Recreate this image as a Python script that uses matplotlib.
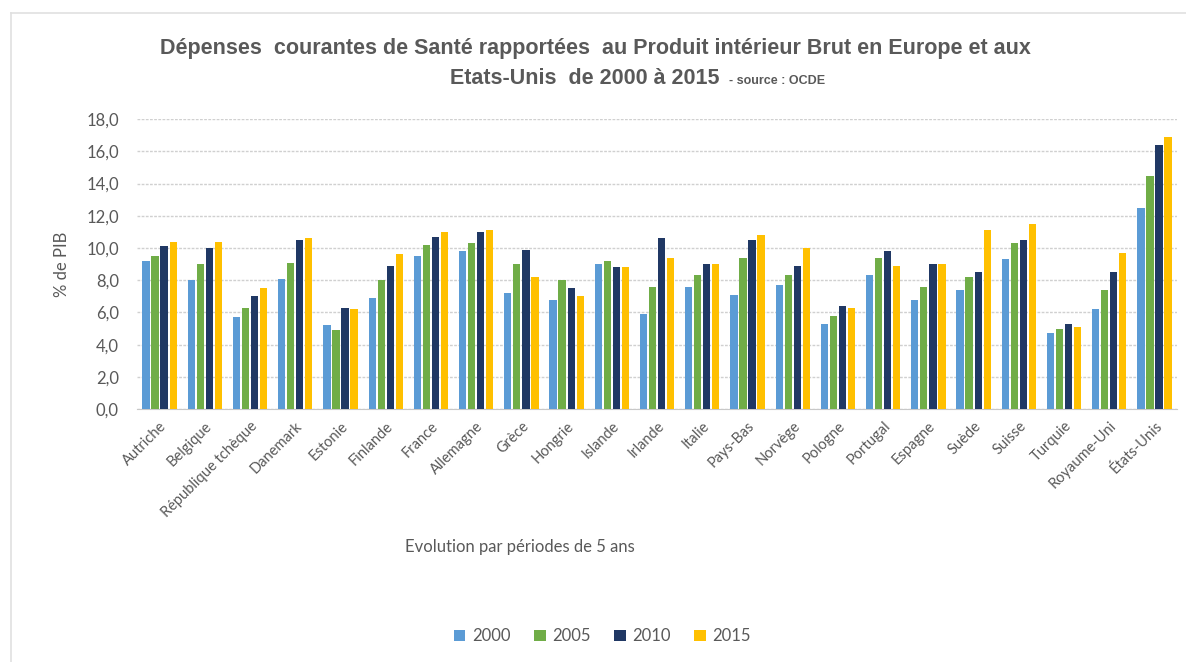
import matplotlib.pyplot as plt
import numpy as np

# Dépenses courantes de santé en % du PIB (source : OCDE)
pays = ['Autriche', 'Belgique', 'République tchèque', 'Danemark', 'Estonie',
        'Finlande', 'France', 'Allemagne', 'Grèce', 'Hongrie', 'Islande',
        'Irlande', 'Italie', 'Pays-Bas', 'Norvège', 'Pologne', 'Portugal',
        'Espagne', 'Suède', 'Suisse', 'Turquie', 'Royaume-Uni', 'États-Unis']

annees = ['2000', '2005', '2010', '2015']

v2000 = [9.2, 8.0, 5.7, 8.1, 5.2, 6.9, 9.5, 9.8, 7.2, 6.8, 9.0, 5.9,
         7.6, 7.1, 7.7, 5.3, 8.3, 6.8, 7.4, 9.3, 4.7, 6.2, 12.5]
v2005 = [9.5, 9.0, 6.3, 9.1, 4.9, 8.0, 10.2, 10.3, 9.0, 8.0, 9.2, 7.6,
         8.3, 9.4, 8.3, 5.8, 9.4, 7.6, 8.2, 10.3, 5.0, 7.4, 14.5]
v2010 = [10.1, 10.0, 7.0, 10.5, 6.3, 8.9, 10.7, 11.0, 9.9, 7.5, 8.8, 10.6,
         9.0, 10.5, 8.9, 6.4, 9.8, 9.0, 8.5, 10.5, 5.3, 8.5, 16.4]
v2015 = [10.4, 10.4, 7.5, 10.6, 6.2, 9.6, 11.0, 11.1, 8.2, 7.0, 8.8, 9.4,
         9.0, 10.8, 10.0, 6.3, 8.9, 9.0, 11.1, 11.5, 5.1, 9.7, 16.9]

couleurs = ['#5B9BD5', '#70AD47', '#203864', '#FFC000']
gris = '#595959'
titre_font = ['Liberation Sans Narrow', 'Liberation Sans']

fig = plt.figure(figsize=(11.86, 6.62), dpi=100)
ax = fig.add_axes([0.1155, 0.382, 0.877, 0.438])

x = np.arange(len(pays))
series = [v2000, v2005, v2010, v2015]
for i, (vals, c, lab) in enumerate(zip(series, couleurs, annees)):
    ax.bar(x + (i - 1.5) * 0.2, vals, width=0.16, color=c, label=lab, zorder=3)

ax.set_xlim(-0.5, len(pays) - 0.5)
ax.set_ylim(0, 18)
ax.set_yticks(np.arange(0, 19, 2))
ax.set_yticklabels([('%.1f' % t).replace('.', ',') for t in np.arange(0, 19, 2)],
                   fontsize=12, color=gris, family='Lato')
ax.set_xticks(x)
ax.set_xticklabels(pays, rotation=45, ha='right', rotation_mode='anchor',
                   fontsize=10.5, color=gris, family='Lato')
ax.tick_params(axis='y', length=0, pad=13)
ax.tick_params(axis='x', length=0, pad=7)

ax.grid(axis='y', color='#D0D0D0', linewidth=1, linestyle=(0, (2, 1)), zorder=0)
for s in ['top', 'right', 'left']:
    ax.spines[s].set_visible(False)
ax.spines['bottom'].set_color('#C8C8C8')

ax.set_ylabel('% de PIB', fontsize=12, color=gris, family='Lato', labelpad=12)

# titre
fig.text(0.502, 0.927,
         'Dépenses  courantes de Santé rapportées  au Produit intérieur Brut en Europe et aux',
         ha='center', va='center', fontsize=15.5, fontweight='bold', color=gris,
         family=titre_font)
fig.text(0.607, 0.882, 'Etats-Unis  de 2000 à 2015', ha='right', va='center',
         fontsize=15.5, fontweight='bold', color=gris, family=titre_font)
fig.text(0.615, 0.878, '- source : OCDE', ha='left', va='center',
         fontsize=9, fontweight='bold', color=gris, family=titre_font)

fig.text(0.438, 0.174, 'Evolution par périodes de 5 ans', ha='center', va='center',
         fontsize=12, color=gris, family='Lato')

leg = fig.legend(loc='center', bbox_to_anchor=(0.508, 0.039), ncol=4, frameon=False,
                 handlelength=0.7, handleheight=0.7, handletextpad=0.4,
                 columnspacing=1.4, prop={'family': 'Lato', 'size': 12})
for t in leg.get_texts():
    t.set_color(gris)

# cadre léger
fig.add_artist(plt.Line2D([0.0093, 1.0], [0.980, 0.980], color='#E0E0E0', linewidth=1.2))
fig.add_artist(plt.Line2D([0.0093, 0.0093], [0.0, 0.980], color='#E0E0E0', linewidth=1.2))

fig.savefig('out.png', dpi=100)
